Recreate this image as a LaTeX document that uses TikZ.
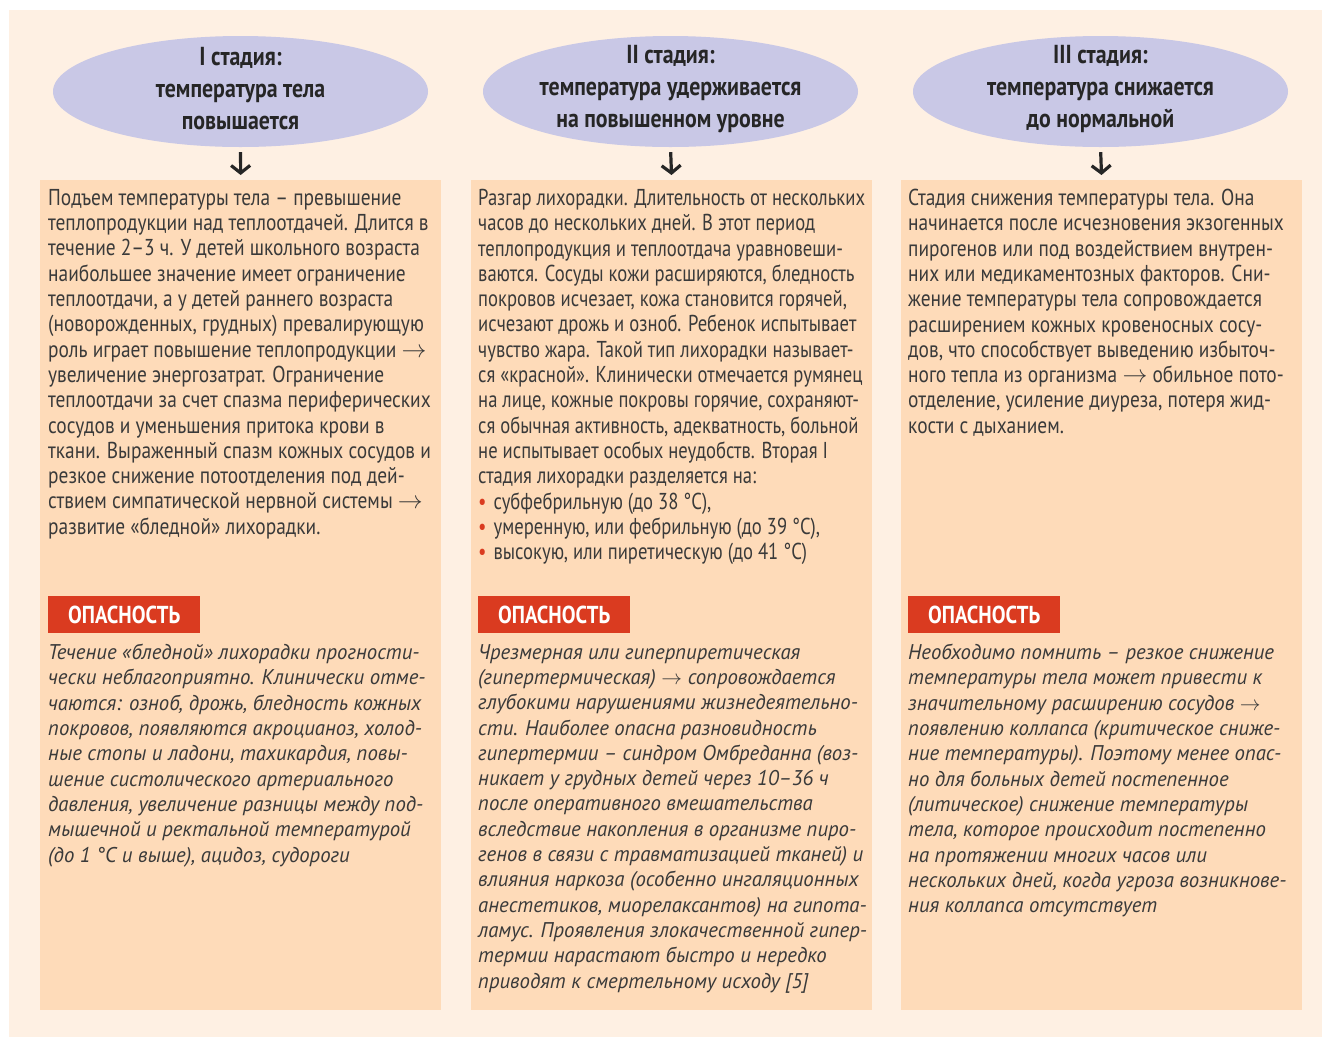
\documentclass[tikz,border=0pt]{standalone}
\usepackage{fontspec}
\setmainfont{PT Sans}
\newfontfamily\bodyf{PT Sans}[FakeStretch=0.843]
\newfontfamily\bodyfb{PT Sans}[FakeStretch=0.81]
\newfontfamily\headf{PT Sans}[FakeStretch=0.84]
\newfontfamily\itf{PT Sans}[FakeStretch=0.975]
\usetikzlibrary{shapes.geometric,arrows.meta}
\definecolor{cream}{HTML}{FEF0E3}
\definecolor{peach}{HTML}{FEDBB9}
\definecolor{lav}{HTML}{C9C8E6}
\definecolor{dred}{HTML}{DA3B20}
\definecolor{txt}{HTML}{3A3A3A}
\newcommand{\ar}{\smash{$\rightarrow$}}
\newcommand{\bul}{\textcolor{dred}{•}\hspace{7pt}}
\tikzset{
  colbox/.style={fill=peach, draw=none, minimum width=401pt, minimum height=830pt, inner sep=0, anchor=north west},
  stage/.style={ellipse, fill=lav, draw=none, minimum width=375pt, minimum height=111pt, inner sep=0},
  headtxt/.style={align=center, inner sep=0, text=black!85, font=\headf\bfseries\fontsize{26}{32}\selectfont},
  bodytxt/.style={anchor=north west, align=left, inner sep=0, text=txt, font=\bodyf\fontsize{23}{25.3}\selectfont},
  bodytxtb/.style={bodytxt, font=\bodyfb\fontsize{23}{25.3}\selectfont},
  ittxt/.style={anchor=north west, align=left, inner sep=0, text=txt, font=\itf\itshape\fontsize{21.3}{25.3}\selectfont},
  danger/.style={anchor=north west, fill=dred, text=white, minimum width=152pt, minimum height=37pt, inner sep=0, font=\headf\bfseries\fontsize{24.5}{26}\selectfont},
  downarr/.style={line width=3.2pt, -{Straight Barb[length=7.5pt,width=19pt]}, shorten <=5pt, shorten >=5pt, black!85}
}
\begin{document}
\begin{tikzpicture}[x=1pt,y=-1pt]
\useasboundingbox (0,0) rectangle (1322,1037);
\fill[white] (0,0) rectangle (1322,1037);
\fill[cream] (9,10) rectangle (1322,1037);
% columns
\node[colbox] (b1) at (40,180) {};
\node[colbox] (b2) at (471,180) {};
\node[colbox] (b3) at (901,180) {};
% stages
\node[stage] (e1) at (240.5,91.5) {};
\node[stage] (e2) at (670.5,91.5) {};
\node[stage] (e3) at (1100.5,91.5) {};
\node[headtxt] (h1) at ([yshift=2.5pt]e1.center) {I стадия:\\температура тела\\повышается};
\node[headtxt] (h2) at ([yshift=2.5pt]e2.center) {II стадия:\\температура удерживается\\на повышенном уровне};
\node[headtxt] (h3) at ([yshift=2.5pt]e3.center) {III стадия:\\температура снижается\\до нормальной};
\draw[downarr] (e1.south) -- (b1.north);
\draw[downarr] (e2.south) -- (b2.north);
\draw[downarr] (e3.south) -- (b3.north);
% body texts
\node[bodytxt] (p1) at (48,189) {Подъем температуры тела – превышение\\
теплопродукции над теплоотдачей. Длится в\\
течение 2–3 ч. У детей школьного возраста\\
наибольшее значение имеет ограничение\\
теплоотдачи, а у детей раннего возраста\\
(новорожденных, грудных) превалирующую\\
роль играет повышение теплопродукции \ar\\
увеличение энергозатрат. Ограничение\\
теплоотдачи за счет спазма периферических\\
сосудов и уменьшения притока крови в\\
ткани. Выраженный спазм кожных сосудов и\\
резкое снижение потоотделения под дей-\\
ствием симпатической нервной системы \ar\\
развитие «бледной» лихорадки.};
\node[bodytxtb] (p2) at (478,189) {Разгар лихорадки. Длительность от нескольких\\
часов до нескольких дней. В этот период\\
теплопродукция и теплоотдача уравновеши-\\
ваются. Сосуды кожи расширяются, бледность\\
покровов исчезает, кожа становится горячей,\\
исчезают дрожь и озноб. Ребенок испытывает\\
чувство жара. Такой тип лихорадки называет-\\
ся «красной». Клинически отмечается румянец\\
на лице, кожные покровы горячие, сохраняют-\\
ся обычная активность, адекватность, больной\\
не испытывает особых неудобств. Вторая I\\
стадия лихорадки разделяется на:\\
\bul субфебрильную (до 38 °С),\\
\bul умеренную, или фебрильную (до 39 °С),\\
\bul высокую, или пиретическую (до 41 °С)};
\node[bodytxt] (p3) at (908,189) {Стадия снижения температуры тела. Она\\
начинается после исчезновения экзогенных\\
пирогенов или под воздействием внутрен-\\
них или медикаментозных факторов. Сни-\\
жение температуры тела сопровождается\\
расширением кожных кровеносных сосу-\\
дов, что способствует выведению избыточ-\\
ного тепла из организма \ar{} обильное пото-\\
отделение, усиление диуреза, потеря жид-\\
кости с дыханием.};
% danger labels
\node[danger] (d1) at (48,596) {ОПАСНОСТЬ};
\node[danger] (d2) at (478,596) {ОПАСНОСТЬ};
\node[danger] (d3) at (908,596) {ОПАСНОСТЬ};
% italic texts
\node[ittxt] (t1) at (48,644) {Течение «бледной» лихорадки прогности-\\
чески неблагоприятно. Клинически отме-\\
чаются: озноб, дрожь, бледность кожных\\
покровов, появляются акроцианоз, холод-\\
ные стопы и ладони, тахикардия, повы-\\
шение систолического артериального\\
давления, увеличение разницы между под-\\
мышечной и ректальной температурой\\
(до 1 °С и выше), ацидоз, судороги};
\node[ittxt] (t2) at (478,644) {Чрезмерная или гиперпиретическая\\
(гипертермическая) \ar{} сопровождается\\
глубокими нарушениями жизнедеятельно-\\
сти. Наиболее опасна разновидность\\
гипертермии – синдром Омбреданна (воз-\\
никает у грудных детей через 10–36 ч\\
после оперативного вмешательства\\
вследствие накопления в организме пиро-\\
генов в связи с травматизацией тканей) и\\
влияния наркоза (особенно ингаляционных\\
анестетиков, миорелаксантов) на гипота-\\
ламус. Проявления злокачественной гипер-\\
термии нарастают быстро и нередко\\
приводят к смертельному исходу [5]};
\node[ittxt] (t3) at (908,644) {Необходимо помнить – резкое снижение\\
температуры тела может привести к\\
значительному расширению сосудов \ar\\
появлению коллапса (критическое сниже-\\
ние температуры). Поэтому менее опас-\\
но для больных детей постепенное\\
(литическое) снижение температуры\\
тела, которое происходит постепенно\\
на протяжении многих часов или\\
нескольких дней, когда угроза возникнове-\\
ния коллапса отсутствует};
\end{tikzpicture}
\end{document}
